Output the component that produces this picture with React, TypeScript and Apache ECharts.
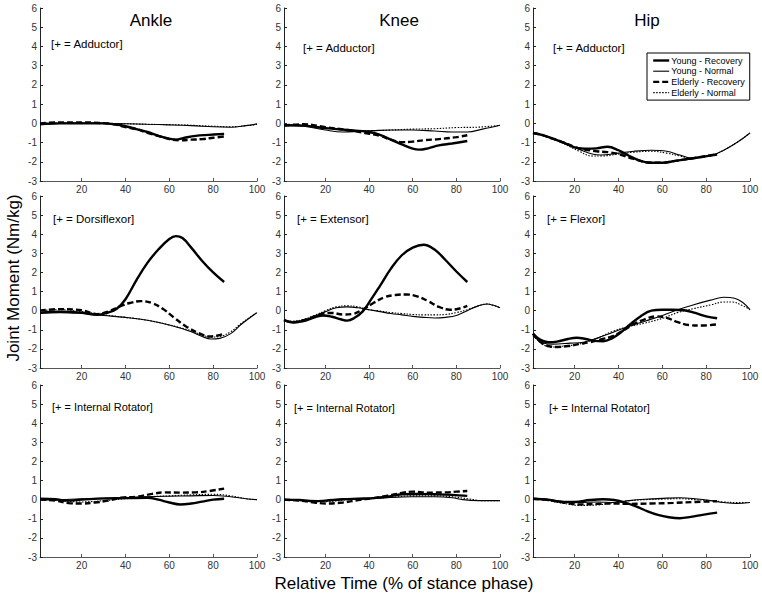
import React, { useEffect, useRef } from "react";
import * as echarts from "echarts";

const FONT = '"Liberation Sans", Arial, Helvetica, sans-serif';

// x ticks and y range
const xTicks = [20, 40, 60, 80, 100];
const Y_MIN = -3;
const Y_MAX = 6;

const seriesNames = ["Young - Recovery", "Young - Normal", "Elderly - Recovery", "Elderly - Normal"];
const jointTitles = ["Ankle", "Knee", "Hip"];
const panelNotes = [
  "[+ = Adductor]", "[+ = Adductor]", "[+ = Adductor]",
  "[+ = Dorsiflexor]", "[+ = Extensor]", "[+ = Flexor]",
  "[+ = Internal Rotator]", "[+ = Internal Rotator]", "[+ = Internal Rotator]",
];

// Row 1: frontal plane (adductor)
const ankleAddYR = [[1,-0.05],[10,0],[20,0],[30,0],[35,-0.05],[40,-0.15],[45,-0.3],[50,-0.45],[55,-0.65],[60,-0.8],[63,-0.85],[67,-0.75],[72,-0.65],[78,-0.6],[85,-0.55]];
const ankleAddYN = [[1,-0.05],[10,0],[20,0.02],[30,0],[40,-0.02],[50,-0.05],[60,-0.08],[70,-0.12],[80,-0.18],[88,-0.2],[95,-0.12],[100,-0.03]];
const ankleAddER = [[1,0],[10,0.05],[20,0.05],[28,0.02],[35,-0.05],[40,-0.2],[45,-0.3],[50,-0.5],[55,-0.65],[60,-0.82],[65,-0.88],[70,-0.85],[75,-0.82],[80,-0.75],[85,-0.68]];
const ankleAddEN = [[1,0],[10,0.02],[20,0.02],[30,0],[40,-0.02],[50,-0.05],[60,-0.07],[70,-0.1],[80,-0.15],[88,-0.18],[95,-0.12],[100,-0.05]];

const kneeAddYR = [[1,-0.1],[10,-0.12],[20,-0.25],[30,-0.35],[40,-0.45],[45,-0.6],[50,-0.85],[55,-1.1],[60,-1.32],[63,-1.37],[67,-1.3],[72,-1.15],[78,-1.05],[85,-0.92]];
const kneeAddYN = [[1,-0.1],[10,-0.15],[20,-0.35],[28,-0.45],[35,-0.42],[42,-0.38],[50,-0.35],[60,-0.35],[70,-0.4],[78,-0.45],[85,-0.45],[92,-0.3],[100,-0.1]];
const kneeAddER = [[1,-0.12],[10,-0.05],[20,-0.2],[30,-0.35],[38,-0.5],[45,-0.65],[50,-0.85],[55,-0.98],[60,-0.95],[65,-0.88],[72,-0.82],[80,-0.72],[85,-0.62]];
const kneeAddEN = [[1,-0.12],[10,-0.1],[20,-0.25],[30,-0.35],[40,-0.38],[50,-0.35],[60,-0.3],[70,-0.28],[80,-0.22],[90,-0.2],[100,-0.1]];

const hipAddYR = [[1,-0.5],[5,-0.6],[10,-0.8],[15,-1.0],[20,-1.25],[25,-1.32],[30,-1.3],[35,-1.22],[40,-1.4],[45,-1.7],[50,-1.95],[55,-2.05],[60,-2.05],[66,-1.95],[72,-1.85],[78,-1.75],[85,-1.62]];
const hipAddYN = [[1,-0.5],[5,-0.6],[10,-0.8],[15,-1.02],[22,-1.35],[28,-1.6],[32,-1.65],[40,-1.55],[47,-1.45],[55,-1.4],[62,-1.45],[68,-1.65],[73,-1.8],[78,-1.75],[83,-1.65],[88,-1.4],[94,-1.0],[100,-0.5]];
const hipAddER = [[1,-0.5],[5,-0.6],[10,-0.8],[15,-1.0],[22,-1.3],[30,-1.45],[35,-1.5],[40,-1.6],[47,-1.85],[55,-2.05],[60,-2.05],[66,-1.95],[72,-1.85],[80,-1.7],[85,-1.6]];
const hipAddEN = [[1,-0.5],[5,-0.6],[10,-0.82],[15,-1.05],[22,-1.45],[28,-1.7],[32,-1.7],[40,-1.6],[47,-1.5],[55,-1.45],[62,-1.55],[68,-1.7],[73,-1.8],[78,-1.75],[83,-1.65],[88,-1.4],[94,-1.0],[100,-0.5]];

// Row 2: sagittal plane
const ankleDorYR = [[1,-0.1],[10,-0.05],[20,-0.1],[27,-0.22],[32,-0.1],[36,0.1],[40,0.6],[45,1.6],[50,2.5],[55,3.2],[60,3.75],[63,3.9],[66,3.8],[70,3.3],[75,2.6],[80,2.0],[85,1.5]];
const ankleDorYN = [[1,-0.15],[10,-0.1],[20,-0.15],[30,-0.25],[40,-0.35],[50,-0.5],[60,-0.75],[70,-1.1],[75,-1.35],[79,-1.48],[83,-1.45],[88,-1.2],[93,-0.7],[100,-0.1]];
const ankleDorER = [[1,0],[10,0.08],[20,0.02],[27,-0.18],[32,-0.05],[37,0.2],[42,0.4],[47,0.5],[52,0.4],[57,0.1],[62,-0.35],[68,-0.85],[74,-1.2],[78,-1.35],[82,-1.3],[85,-1.2]];
const ankleDorEN = [[1,0],[10,0.05],[20,-0.05],[30,-0.22],[40,-0.35],[50,-0.5],[60,-0.75],[70,-1.05],[75,-1.28],[79,-1.38],[83,-1.35],[88,-1.1],[93,-0.65],[100,-0.1]];

const kneeExtYR = [[1,-0.5],[5,-0.62],[10,-0.55],[15,-0.35],[19,-0.25],[23,-0.32],[27,-0.45],[30,-0.52],[33,-0.4],[37,-0.05],[41,0.6],[45,1.3],[50,2.2],[55,2.9],[60,3.3],[65,3.45],[70,3.2],[75,2.65],[80,2.05],[85,1.5]];
const kneeExtYN = [[1,-0.5],[5,-0.6],[10,-0.5],[15,-0.3],[20,-0.05],[25,0.15],[30,0.2],[35,0.15],[40,0.05],[45,-0.05],[50,-0.15],[55,-0.22],[60,-0.3],[65,-0.35],[70,-0.38],[75,-0.35],[80,-0.25],[85,0],[90,0.25],[94,0.35],[97,0.28],[100,0.15]];
const kneeExtER = [[1,-0.5],[5,-0.6],[10,-0.5],[15,-0.3],[19,-0.15],[23,-0.12],[28,-0.2],[32,-0.18],[37,0.05],[42,0.4],[47,0.7],[52,0.82],[57,0.85],[62,0.75],[67,0.5],[72,0.2],[77,0.05],[81,0.1],[85,0.25]];
const kneeExtEN = [[1,-0.45],[5,-0.55],[10,-0.45],[15,-0.25],[20,0],[25,0.2],[30,0.25],[35,0.2],[40,0.05],[45,-0.02],[50,-0.1],[55,-0.15],[60,-0.2],[65,-0.22],[70,-0.22],[75,-0.2],[80,-0.1],[85,0.05],[90,0.25],[94,0.35],[97,0.28],[100,0.15]];

const hipFlxYR = [[1,-1.2],[4,-1.5],[8,-1.65],[12,-1.62],[17,-1.48],[21,-1.42],[25,-1.48],[29,-1.58],[33,-1.6],[37,-1.45],[41,-1.15],[45,-0.75],[50,-0.3],[55,0],[60,0.05],[65,0.05],[70,0.02],[75,-0.12],[80,-0.3],[85,-0.4]];
const hipFlxYN = [[1,-1.3],[6,-1.7],[10,-1.75],[18,-1.7],[24,-1.65],[30,-1.45],[37,-1.15],[44,-0.85],[52,-0.55],[60,-0.25],[67,0.05],[74,0.3],[82,0.55],[88,0.7],[93,0.65],[97,0.4],[100,0.05]];
const hipFlxER = [[1,-1.2],[4,-1.6],[8,-1.85],[12,-1.9],[17,-1.85],[22,-1.75],[27,-1.65],[32,-1.5],[37,-1.35],[42,-1.05],[47,-0.7],[52,-0.45],[57,-0.3],[62,-0.38],[67,-0.6],[72,-0.75],[78,-0.78],[85,-0.72]];
const hipFlxEN = [[1,-1.3],[6,-1.8],[10,-1.9],[15,-1.85],[22,-1.75],[30,-1.45],[37,-1.1],[44,-0.85],[52,-0.65],[60,-0.4],[67,-0.1],[74,0.1],[82,0.3],[88,0.45],[92,0.45],[96,0.3],[100,0.05]];

// Row 3: transverse plane (internal rotator)
const ankleIrYR = [[1,0.05],[8,0.02],[13,-0.05],[20,0],[30,0.07],[40,0.08],[50,0.1],[55,0],[60,-0.15],[65,-0.25],[70,-0.2],[75,-0.1],[80,0],[85,0.05]];
const ankleIrYN = [[1,0],[10,0],[20,0.05],[30,0.05],[40,0.1],[50,0.15],[60,0.18],[70,0.2],[80,0.22],[88,0.15],[95,0.05],[100,0]];
const ankleIrER = [[1,0],[8,-0.05],[14,-0.18],[20,-0.2],[26,-0.15],[32,-0.05],[38,0.1],[45,0.15],[52,0.3],[58,0.38],[65,0.37],[72,0.38],[78,0.45],[85,0.58]];
const ankleIrEN = [[1,0],[10,-0.05],[20,-0.12],[30,-0.05],[40,0.05],[50,0.15],[60,0.2],[70,0.25],[80,0.28],[88,0.2],[95,0.05],[100,0]];

const kneeIrYR = [[1,0],[8,-0.02],[15,-0.08],[20,-0.05],[28,0.02],[35,0.05],[42,0.08],[48,0.15],[55,0.28],[62,0.3],[70,0.28],[78,0.25],[85,0.2]];
const kneeIrYN = [[1,0],[10,-0.03],[20,-0.05],[30,0.03],[40,0.05],[50,0.12],[60,0.15],[70,0.15],[78,0.1],[83,0],[90,-0.05],[100,-0.05]];
const kneeIrER = [[1,0],[8,-0.05],[15,-0.15],[20,-0.2],[28,-0.15],[35,-0.02],[42,0.08],[48,0.2],[55,0.35],[60,0.42],[67,0.37],[75,0.38],[80,0.42],[85,0.45]];
const kneeIrEN = [[1,0],[10,-0.05],[20,-0.1],[30,0],[40,0.05],[50,0.12],[60,0.2],[70,0.2],[78,0.15],[85,0.05],[92,-0.05],[100,-0.05]];

const hipIrYR = [[1,0.05],[8,0],[15,-0.12],[20,-0.12],[27,-0.02],[33,0.02],[38,-0.02],[43,-0.15],[48,-0.35],[53,-0.6],[58,-0.8],[63,-0.92],[68,-0.97],[73,-0.9],[79,-0.78],[85,-0.68]];
const hipIrYN = [[1,0.05],[8,0],[15,-0.1],[22,-0.15],[30,-0.12],[38,-0.15],[45,-0.05],[52,0.02],[60,0.07],[68,0.1],[75,0.05],[82,-0.05],[88,-0.15],[94,-0.2],[100,-0.15]];
const hipIrER = [[1,0.05],[8,-0.02],[15,-0.15],[22,-0.25],[30,-0.22],[38,-0.2],[45,-0.22],[55,-0.2],[65,-0.17],[75,-0.12],[85,-0.08]];
const hipIrEN = [[1,0.05],[8,-0.05],[15,-0.2],[22,-0.3],[30,-0.28],[38,-0.15],[45,-0.05],[52,0],[60,0.03],[68,0.05],[75,0],[82,-0.05],[88,-0.12],[94,-0.15],[100,-0.15]];

const panels = [
  [ankleAddYR, ankleAddYN, ankleAddER, ankleAddEN],
  [kneeAddYR, kneeAddYN, kneeAddER, kneeAddEN],
  [hipAddYR, hipAddYN, hipAddER, hipAddEN],
  [ankleDorYR, ankleDorYN, ankleDorER, ankleDorEN],
  [kneeExtYR, kneeExtYN, kneeExtER, kneeExtEN],
  [hipFlxYR, hipFlxYN, hipFlxER, hipFlxEN],
  [ankleIrYR, ankleIrYN, ankleIrER, ankleIrEN],
  [kneeIrYR, kneeIrYN, kneeIrER, kneeIrEN],
  [hipIrYR, hipIrYN, hipIrER, hipIrEN],
];

// layout (pixels)
const colLeft = [40, 284, 533];
const colWidth = [217, 216, 217];
const rowTop = [8, 196, 385];
const rowHeight = [173, 172, 172];
const titleX = [151, 399, 647];
const noteX = [51, 303, 553, 53, 297, 547, 52, 294, 549];
const noteY = [44, 48, 48, 219, 219, 219, 407, 408, 408];

const lineStyles = [
  { width: 2.4, type: "solid" },
  { width: 1.1, type: "solid" },
  { width: 2.4, type: [6, 3] },
  { width: 1.1, type: [1.5, 1.5] },
];

export default function App() {
  const ref = useRef<HTMLDivElement>(null);
  useEffect(() => {
    if (!ref.current) return;
    const chart = echarts.init(ref.current, null, { renderer: "svg" });
    const grids: any[] = [];
    const xAxes: any[] = [];
    const yAxes: any[] = [];
    const series: any[] = [];
    for (let i = 0; i < 9; i++) {
      const r = Math.floor(i / 3);
      const c = i % 3;
      grids.push({ left: colLeft[c], top: rowTop[r], width: colWidth[c], height: rowHeight[r], containLabel: false });
      xAxes.push({
        type: "value", gridIndex: i, min: 1, max: 100,
        axisLine: { show: true, onZero: false, lineStyle: { color: "#555", width: 1 } },
        axisTick: { show: true, inside: true, length: 3, customValues: xTicks, lineStyle: { color: "#555" } },
        axisLabel: { customValues: xTicks, fontSize: 10, color: "#333", margin: 3, fontFamily: FONT },
        splitLine: { show: false },
      });
      yAxes.push({
        type: "value", gridIndex: i, min: Y_MIN, max: Y_MAX, interval: 1,
        axisLine: { show: true, onZero: false, lineStyle: { color: "#222", width: 1 } },
        axisTick: { show: true, inside: true, length: 3, lineStyle: { color: "#222" } },
        axisLabel: { fontSize: 10, color: "#333", margin: 3, fontFamily: FONT },
        splitLine: { show: false },
      });
      panels[i].forEach((d, k) => {
        series.push({
          type: "line", name: seriesNames[k], xAxisIndex: i, yAxisIndex: i,
          data: d, symbol: "none", smooth: 0.4, showSymbol: false,
          lineStyle: { color: "#000", width: lineStyles[k].width, type: lineStyles[k].type },
          itemStyle: { color: "#000" },
          z: k === 0 || k === 2 ? 3 : 2,
        });
      });
    }
    const graphic: any[] = [];
    jointTitles.forEach((t, c) => {
      graphic.push({ type: "text", x: titleX[c], y: 20, style: { text: t, fontSize: 17, fontFamily: FONT, fill: "#000", align: "center", verticalAlign: "middle" } });
    });
    panelNotes.forEach((t, i) => {
      graphic.push({ type: "text", x: noteX[i], y: noteY[i], style: { text: t, fontSize: i >= 6 ? 11 : 11.5, fontFamily: FONT, fill: "#000", align: "left", verticalAlign: "middle" } });
    });
    graphic.push({ type: "text", x: 13, y: 278, rotation: Math.PI / 2, style: { text: "Joint Moment (Nm/kg)", fontSize: 17, fontFamily: FONT, fill: "#000", align: "center", verticalAlign: "middle" } });
    graphic.push({ type: "text", x: 404, y: 583, style: { text: "Relative Time (% of stance phase)", fontSize: 17, fontFamily: FONT, fill: "#000", align: "center", verticalAlign: "middle" } });

    chart.setOption({
      animation: false,
      backgroundColor: "#fff",
      grid: grids,
      xAxis: xAxes,
      yAxis: yAxes,
      series,
      graphic,
      legend: {
        left: 647, top: 53, orient: "vertical",
        padding: [3, 5, 3, 5],
        borderColor: "#000", borderWidth: 1, borderRadius: 0,
        backgroundColor: "#fff",
        itemWidth: 16, itemHeight: 9, itemGap: 1.7,
        itemStyle: { opacity: 0 },
        textStyle: { fontSize: 9, fontFamily: FONT, color: "#000", padding: [0, 0, 0, -3] },
        data: seriesNames.map((n, k) => ({ name: n, itemStyle: { opacity: 0 }, lineStyle: { width: lineStyles[k].width, type: lineStyles[k].type, color: "#000" } })),
        selectedMode: false,
      },
    });
    return () => chart.dispose();
  }, []);
  return <div ref={ref} style={{ position: "fixed", left: 0, top: 0, width: 762, height: 598 }} />;
}
